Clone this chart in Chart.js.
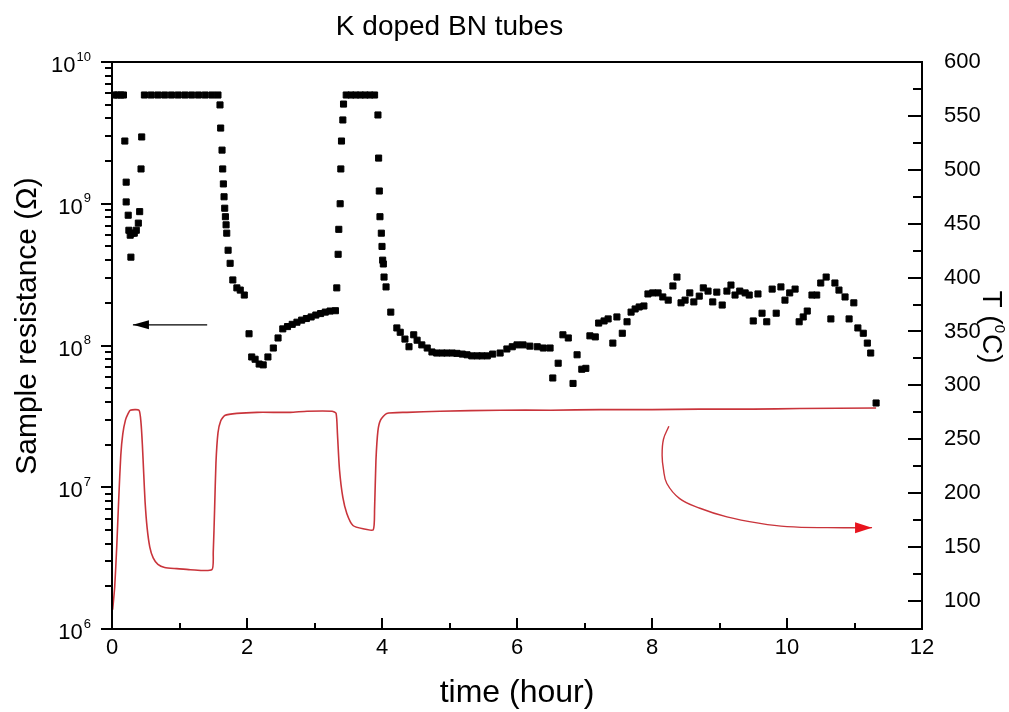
<!DOCTYPE html>
<html>
<head>
<meta charset="utf-8">
<script src="https://cdn.jsdelivr.net/npm/chart.js@4.4.0/dist/chart.umd.min.js"></script>
<style>
  html, body { margin: 0; padding: 0; background: #fff; }
</style>
</head>
<body>
<canvas id="chartKBN" width="1009" height="712"></canvas>
<script>
// sample resistance (left axis, log scale) - black squares
var timeR = [0.03, 0.08, 0.13, 0.17, 0.19, 0.21, 0.21, 0.24, 0.25, 0.27, 0.28, 0.30, 0.33, 0.36, 0.39, 0.41, 0.43, 0.44,
  0.48, 0.58, 0.68, 0.78, 0.88, 0.98, 1.08, 1.18, 1.28, 1.38, 1.48, 1.57,
  1.60, 1.61, 1.63, 1.64, 1.65, 1.66, 1.67, 1.68, 1.69, 1.70, 1.72, 1.75, 1.79, 1.85, 1.90, 1.96,
  2.03, 2.07, 2.12, 2.18, 2.24, 2.31, 2.39, 2.46, 2.53, 2.60, 2.67, 2.74, 2.81, 2.88, 2.95, 3.02, 3.09, 3.16, 3.23, 3.31,
  3.33, 3.35, 3.36, 3.38, 3.39, 3.40, 3.42, 3.43,
  3.47, 3.54, 3.61, 3.68, 3.75, 3.82, 3.89,
  3.94, 3.95, 3.96, 3.97, 3.99, 4.00, 4.01, 4.02, 4.03, 4.06, 4.13, 4.22, 4.27, 4.34, 4.40, 4.47, 4.52, 4.59, 4.67, 4.74,
  4.81, 4.89, 4.96, 5.04, 5.11, 5.19, 5.26, 5.33, 5.41, 5.48, 5.56, 5.64, 5.75, 5.85, 5.93, 6.00, 6.09, 6.19, 6.30, 6.39, 6.49,
  6.53, 6.61, 6.68, 6.76, 6.83, 6.89, 6.96, 7.02, 7.08, 7.16, 7.21, 7.29, 7.35, 7.42, 7.48, 7.56, 7.63, 7.69, 7.75, 7.81,
  7.88, 7.94, 8.01, 8.09, 8.16, 8.24, 8.31, 8.37, 8.43, 8.49, 8.56, 8.62, 8.70, 8.76, 8.83, 8.90, 8.96, 9.04, 9.11, 9.17,
  9.23, 9.30, 9.38, 9.44, 9.50, 9.57, 9.63, 9.70, 9.78, 9.84, 9.91, 9.97, 10.04, 10.12, 10.18, 10.24, 10.30, 10.37, 10.44, 10.50,
  10.58, 10.65, 10.71, 10.77, 10.86, 10.92, 10.99, 11.05, 11.13, 11.19, 11.24, 11.32];
var resistance = [5.85e9, 5.85e9, 5.85e9, 5.85e9, 2.77e9, 1.42e9, 1.03e9, 8.3e8, 6.5e8, 6.0e8, 4.2e8, 6.2e8, 6.2e8, 6.5e8, 7.3e8, 8.8e8, 1.76e9, 2.96e9,
  5.85e9, 5.85e9, 5.85e9, 5.85e9, 5.85e9, 5.85e9, 5.85e9, 5.85e9, 5.85e9, 5.85e9, 5.85e9, 5.85e9,
  4.98e9, 3.42e9, 2.39e9, 1.76e9, 1.38e9, 1.12e9, 9.3e8, 8.1e8, 7.1e8, 6.2e8, 4.7e8, 3.8e8, 2.9e8, 2.55e8, 2.46e8, 2.27e8,
  1.21e8, 8.3e7, 8.0e7, 7.4e7, 7.3e7, 8.3e7, 9.6e7, 1.13e8, 1.31e8, 1.36e8, 1.41e8, 1.46e8, 1.51e8, 1.55e8, 1.59e8, 1.64e8, 1.68e8, 1.72e8, 1.75e8, 1.76e8,
  2.55e8, 4.4e8, 6.6e8, 1.0e9, 1.76e9, 2.77e9, 3.9e9, 5.05e9,
  5.85e9, 5.85e9, 5.85e9, 5.85e9, 5.85e9, 5.85e9, 5.85e9,
  4.23e9, 2.10e9, 1.23e9, 8.1e8, 6.2e8, 5.0e8, 4.0e8, 3.76e8, 3.04e8, 2.59e8, 1.72e8, 1.33e8, 1.24e8, 1.11e8, 9.8e7, 1.19e8, 1.09e8, 1.01e8, 9.6e7, 9.0e7,
  8.85e7, 8.85e7, 8.85e7, 8.85e7, 8.8e7, 8.7e7, 8.6e7, 8.45e7, 8.45e7, 8.45e7, 8.45e7, 8.7e7, 8.85e7, 9.45e7, 9.8e7, 1.01e8, 1.01e8, 9.9e7, 9.8e7, 9.6e7, 9.6e7,
  5.9e7, 7.5e7, 1.19e8, 1.13e8, 5.4e7, 8.6e7, 6.8e7, 6.9e7, 1.17e8, 1.15e8, 1.44e8, 1.49e8, 1.54e8, 1.04e8, 1.59e8, 1.22e8, 1.47e8, 1.72e8, 1.81e8, 1.87e8,
  1.90e8, 2.31e8, 2.35e8, 2.35e8, 2.20e8, 2.09e8, 2.63e8, 3.04e8, 2.00e8, 2.09e8, 2.35e8, 2.03e8, 2.23e8, 2.55e8, 2.42e8, 2.03e8, 2.38e8, 1.93e8, 2.42e8, 2.67e8,
  2.27e8, 2.42e8, 2.35e8, 2.27e8, 1.49e8, 2.31e8, 1.69e8, 1.47e8, 2.50e8, 1.69e8, 2.59e8, 2.09e8, 2.35e8, 2.50e8, 1.47e8, 1.59e8, 1.75e8, 2.27e8, 2.27e8, 2.76e8,
  3.04e8, 1.54e8, 2.76e8, 2.46e8, 2.20e8, 1.54e8, 2.00e8, 1.33e8, 1.22e8, 1.04e8, 8.85e7, 3.93e7];

// temperature (right axis) - red line
var timeT = [0.01, 0.04, 0.07, 0.10, 0.13, 0.16, 0.20, 0.24, 0.27, 0.40, 0.43, 0.45, 0.47, 0.49, 0.52, 0.56, 0.61, 0.68, 0.78, 0.96, 1.16, 1.48,
  1.50, 1.52, 1.54, 1.57, 1.61, 1.67, 1.85, 2.15, 2.64, 2.89, 3.26, 3.32, 3.34, 3.37, 3.42, 3.48, 3.57, 3.72, 3.87,
  3.89, 3.91, 3.94, 3.98, 4.07, 4.37, 4.86, 5.75, 6.50, 7.23, 8.00, 8.71, 9.50, 10.19, 11.32];
var tempT = [92, 113, 150, 195, 235, 255, 268, 274, 277, 277, 265, 245, 218, 192, 168, 150, 140, 134, 131, 130, 129, 129,
  145, 185, 228, 256, 267, 272, 274, 275, 275, 276, 276, 274, 255, 222, 196, 181, 170, 167, 166,
  185, 230, 258, 268, 274, 275, 276, 277, 277, 277.5, 277.5, 278, 278, 278.5, 279];

// annotation arrows
var arrowLeftX = [1.41, 0.31];
var arrowLeftR = [1.4e8, 1.4e8];
var arrowRightX = [8.25, 8.17, 8.15, 8.17, 8.22, 8.41, 8.71, 9.11, 9.60, 10.0, 10.6, 11.26];
var arrowRightT = [262, 250, 235, 222, 209, 195, 186, 178, 172, 169, 168, 168];

var timeTicks = [0, 2, 4, 6, 8, 10, 12];
var resTicks = [1e6, 1e7, 1e8, 1e9, 1e10];
var resExp = ['6', '7', '8', '9', '10'];
var tempTicks = [100, 150, 200, 250, 300, 350, 400, 450, 500, 550, 600];

function pts(xs, ys) {
  return xs.map(function (x, i) { return { x: x, y: ys[i] }; });
}

var FONT = '"Liberation Sans", Arial, sans-serif';
var RED = '#c9343b';

var axesDeco = {
  id: 'axesDeco',
  afterDatasetsDraw: function (chart) {
    var ctx = chart.ctx, a = chart.chartArea;
    var xs = chart.scales.x, ys = chart.scales.y, ts = chart.scales.y2;
    ctx.save();
    ctx.strokeStyle = '#000';
    ctx.lineWidth = 2;
    ctx.strokeRect(a.left, a.top, a.right - a.left, a.bottom - a.top);

    ctx.beginPath();
    // bottom ticks, inward
    for (var t = 0; t <= 12; t++) {
      var px = Math.round(xs.getPixelForValue(t));
      ctx.moveTo(px, a.bottom);
      ctx.lineTo(px, a.bottom - (t % 2 === 0 ? 11 : 6));
    }
    // left ticks, outward, log minors
    for (var e = 6; e <= 10; e++) {
      for (var m = 1; m <= 9; m++) {
        if (e === 10 && m > 1) break;
        var py = Math.round(ys.getPixelForValue(m * Math.pow(10, e)));
        ctx.moveTo(a.left, py);
        ctx.lineTo(a.left - (m === 1 ? 11 : 7), py);
      }
    }
    // right ticks, inward
    for (var v = 100; v <= 600; v += 25) {
      var py2 = Math.round(ts.getPixelForValue(v));
      ctx.moveTo(a.right, py2);
      ctx.lineTo(a.right - (v % 50 === 0 ? 14 : 9), py2);
    }
    ctx.stroke();

    // left labels with superscript exponent
    ctx.fillStyle = '#000';
    resTicks.forEach(function (val, i) {
      var py = ys.getPixelForValue(val);
      ctx.font = '13px ' + FONT;
      var ew = ctx.measureText(resExp[i]).width;
      ctx.textAlign = 'left';
      ctx.textBaseline = 'middle';
      ctx.fillText(resExp[i], 91 - ew, py - 5);
      ctx.font = '22px ' + FONT;
      ctx.textAlign = 'right';
      ctx.fillText('10', 90 - ew, py + 4);
    });

    // title
    ctx.font = '28px ' + FONT;
    ctx.textAlign = 'center';
    ctx.textBaseline = 'middle';
    ctx.fillText('K doped BN tubes', xs.getPixelForValue(5), 27);

    // left axis title
    ctx.save();
    ctx.translate(28, 326);
    ctx.rotate(-Math.PI / 2);
    ctx.font = '30px ' + FONT;
    ctx.fillText('Sample resistance (\u03A9)', 0, 0);
    ctx.restore();

    // right axis title, reads top to bottom, superscript 0
    ctx.save();
    ctx.translate(991, 327);
    ctx.rotate(Math.PI / 2);
    ctx.textAlign = 'left';
    ctx.font = '28px ' + FONT;
    var w1 = ctx.measureText('T (').width;
    var w3 = ctx.measureText('C)').width;
    ctx.font = '15px ' + FONT;
    var w2 = ctx.measureText('0').width + 1;
    var x0 = -(w1 + w2 + w3) / 2;
    ctx.font = '28px ' + FONT;
    ctx.fillText('T (', x0, 0);
    ctx.fillText('C)', x0 + w1 + w2, 0);
    ctx.font = '15px ' + FONT;
    ctx.fillText('0', x0 + w1, -8);
    ctx.restore();

    // arrow heads
    function head(x0, y0, x1, y1, len, half, color) {
      var ang = Math.atan2(y1 - y0, x1 - x0);
      ctx.fillStyle = color;
      ctx.beginPath();
      ctx.moveTo(x1, y1);
      ctx.lineTo(x1 - len * Math.cos(ang) + half * Math.sin(ang), y1 - len * Math.sin(ang) - half * Math.cos(ang));
      ctx.lineTo(x1 - len * Math.cos(ang) - half * Math.sin(ang), y1 - len * Math.sin(ang) + half * Math.cos(ang));
      ctx.closePath();
      ctx.fill();
    }
    var n = arrowLeftX.length - 1;
    head(xs.getPixelForValue(arrowLeftX[n - 1]), ys.getPixelForValue(arrowLeftR[n - 1]),
      xs.getPixelForValue(arrowLeftX[n]), ys.getPixelForValue(arrowLeftR[n]), 16, 4.5, '#000');
    var k = arrowRightX.length - 1;
    head(xs.getPixelForValue(arrowRightX[k - 1]), ts.getPixelForValue(arrowRightT[k - 1]),
      xs.getPixelForValue(arrowRightX[k]), ts.getPixelForValue(arrowRightT[k]), 17, 5.5, '#e8141e');
    ctx.restore();
  }
};

var chart = new Chart(document.getElementById('chartKBN'), {
  type: 'scatter',
  data: {
    datasets: [
      {
        label: 'T',
        data: pts(timeT, tempT),
        yAxisID: 'y2',
        showLine: true,
        borderColor: RED,
        borderWidth: 1.6,
        pointRadius: 0,
        tension: 0.2
      },
      {
        label: 'resistance',
        data: pts(timeR, resistance),
        yAxisID: 'y',
        pointStyle: 'rect',
        pointRadius: 4.3,
        borderWidth: 1,
        backgroundColor: '#000',
        borderColor: '#000'
      },
      {
        label: 'arrowR',
        data: pts(arrowLeftX, arrowLeftR),
        yAxisID: 'y',
        showLine: true,
        borderColor: '#000',
        borderWidth: 1.2,
        pointRadius: 0
      },
      {
        label: 'arrowT',
        data: pts(arrowRightX, arrowRightT),
        yAxisID: 'y2',
        showLine: true,
        borderColor: RED,
        borderWidth: 1.4,
        pointRadius: 0,
        tension: 0.4
      }
    ]
  },
  options: {
    responsive: false,
    animation: false,
    layout: { padding: { top: 62, left: 0, right: 0, bottom: 0 } },
    plugins: {
      legend: { display: false },
      tooltip: { enabled: false }
    },
    scales: {
      x: {
        type: 'linear',
        position: 'bottom',
        min: 0,
        max: 12,
        grid: { display: false, drawTicks: false },
        border: { display: false },
        ticks: { color: '#000', font: { family: FONT, size: 22 }, padding: 6 },
        afterBuildTicks: function (s) { s.ticks = timeTicks.map(function (v) { return { value: v }; }); },
        afterFit: function (s) { s.height = 83; },
        title: { display: true, text: 'time (hour)', color: '#000', font: { family: FONT, size: 32 }, padding: { top: 1, bottom: 0 } }
      },
      y: {
        type: 'logarithmic',
        position: 'left',
        min: 1e6,
        max: 1e10,
        grid: { display: false, drawTicks: false },
        border: { display: false },
        ticks: { display: false },
        afterFit: function (s) { s.width = 112; }
      },
      y2: {
        type: 'linear',
        position: 'right',
        min: 74,
        max: 600,
        grid: { display: false, drawTicks: false },
        border: { display: false },
        ticks: { color: '#000', font: { family: FONT, size: 22 }, padding: 22 },
        afterBuildTicks: function (s) { s.ticks = tempTicks.map(function (v) { return { value: v }; }); },
        afterFit: function (s) { s.width = 87; }
      }
    }
  },
  plugins: [axesDeco]
});
</script>
</body>
</html>
